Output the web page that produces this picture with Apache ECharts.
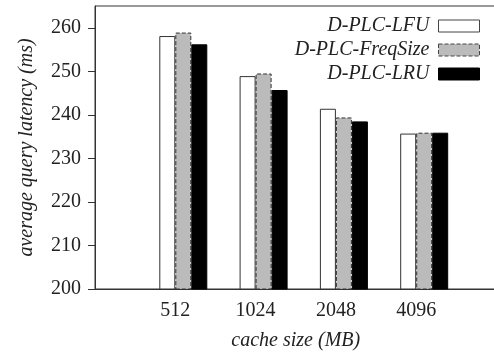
<!DOCTYPE html>
<html><head><meta charset="utf-8">
<script src="https://cdn.jsdelivr.net/npm/echarts@6/dist/echarts.min.js"></script>
<style>html,body{margin:0;padding:0;background:#fff}#c{width:494px;height:352px}</style>
</head><body><div id="c"></div>
<script>
var categories = ['512', '1024', '2048', '4096'];
var lfu = [258.1, 248.9, 241.4, 235.7];
var freqSize = [258.9, 249.5, 239.4, 235.9];
var lru = [256.2, 245.7, 238.5, 235.9];
var yTicks = [200, 210, 220, 230, 240, 250, 260];

function pad(a) { return ['-'].concat(a, ['-']); }
var cats = [''].concat(categories, ['']);
var chart = echarts.init(document.getElementById('c'));
chart.setOption({
  animation: false,
  textStyle: { fontFamily: 'Liberation Serif' },
  grid: { left: 95, top: 6, width: 401.5, height: 283, outerBoundsMode: 'none', containLabel: false,
          show: true, borderColor: '#333', borderWidth: 1, backgroundColor: 'transparent' },
  legend: {
    orient: 'vertical', right: 14, top: 16, align: 'right', padding: 0,
    itemWidth: 41, itemHeight: 12, itemGap: 4, icon: 'rect',
    textStyle: { fontFamily: 'Liberation Serif', fontStyle: 'italic', fontSize: 20, color: '#222', padding: [0, 4, 0, 0] },
    data: [
      { name: 'D-PLC-LFU', itemStyle: { color: '#fff', borderColor: '#444', borderWidth: 1 } },
      { name: 'D-PLC-FreqSize', itemStyle: { color: '#bbb', borderColor: '#444', borderWidth: 1, borderType: 'dashed' } },
      { name: 'D-PLC-LRU', itemStyle: { color: '#000', borderColor: '#000', borderWidth: 1 } }
    ]
  },
  xAxis: {
    type: 'category', data: cats, boundaryGap: false,
    axisLine: { lineStyle: { color: '#333', width: 1 } },
    axisTick: { show: false },
    axisLabel: { fontFamily: 'Liberation Serif', fontSize: 20, color: '#222', margin: 12, interval: 0 },
    splitLine: { show: false },
    name: 'cache size (MB)', nameLocation: 'middle', nameGap: 42,
    nameTextStyle: { fontFamily: 'Liberation Serif', fontStyle: 'italic', fontSize: 20, color: '#222' }
  },
  yAxis: {
    type: 'value', min: 200, max: 265, interval: 10,
    axisLine: { show: true, lineStyle: { color: '#333', width: 1 } },
    axisTick: { show: true, length: 7, inside: false, lineStyle: { color: '#333' }, customValues: yTicks },
    axisLabel: { fontFamily: 'Liberation Serif', fontSize: 20, color: '#222', margin: 14, customValues: yTicks },
    splitLine: { show: false },
    name: 'average query latency (ms)', nameLocation: 'middle', nameGap: 58,
    nameTextStyle: { fontFamily: 'Liberation Serif', fontStyle: 'italic', fontSize: 20, color: '#222' }
  },
  series: [
    { name: '', type: 'bar', data: pad(['-', '-', '-', '-']), barWidth: 16, barGap: '0%', silent: true },
    { name: 'D-PLC-LFU', type: 'bar', data: pad(lfu), barWidth: 16, barGap: '0%',
      itemStyle: { color: '#fff', borderColor: '#333', borderWidth: 1 } },
    { name: 'D-PLC-FreqSize', type: 'bar', data: pad(freqSize), barWidth: 16, barGap: '0%',
      itemStyle: { color: '#bbb', borderColor: '#333', borderWidth: 1, borderType: 'dashed' } },
    { name: 'D-PLC-LRU', type: 'bar', data: pad(lru), barWidth: 16, barGap: '0%',
      itemStyle: { color: '#000', borderColor: '#000', borderWidth: 1 } }
  ]
});
</script></body></html>
